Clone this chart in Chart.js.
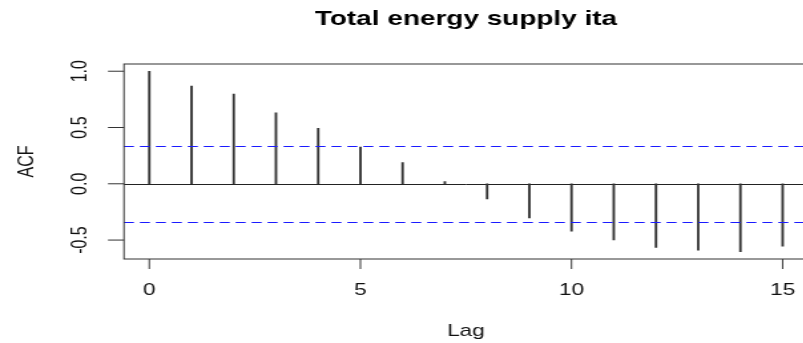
<!DOCTYPE html>
<html>
<head>
<meta charset="utf-8">
<script src="https://cdn.jsdelivr.net/npm/chart.js@4.4.1/dist/chart.umd.min.js"></script>
<style>
  html, body { margin: 0; padding: 0; background: #fff; overflow: hidden; width: 803px; height: 343px; }
  /* the reference is stretched sideways, so draw narrow and widen it */
  #wrap { position: absolute; left: 0; top: 0; width: 612px; height: 343px; transform: scaleX(1.33); transform-origin: 0 0; }
</style>
</head>
<body>
<div id="wrap"><canvas id="acf" width="612" height="343"></canvas></div>
<script>
const chartTitle = 'Total energy supply ita';
const xTitle = 'Lag';
const yTitle = 'ACF';
const lags = [0, 1, 2, 3, 4, 5, 6, 7, 8, 9, 10, 11, 12, 13, 14, 15];
const acfValues = [1.0, 0.867, 0.796, 0.631, 0.493, 0.327, 0.188, 0.02, -0.135, -0.304, -0.422, -0.498, -0.566, -0.59, -0.604, -0.555];
const ciBound = 0.34;
const xTicks = [0, 5, 10, 15];
const xTickLabels = ['0', '5', '10', '15'];
const yTicks = [-0.5, 0, 0.5, 1.0];
const yTickLabels = ['-0.5', '0.0', '0.5', '1.0'];

const FONT = "'Liberation Sans', Arial, Helvetica, sans-serif";

// R style 4% range extension
function extend(lo, hi) {
    const d = (hi - lo) * 0.04;
    return [lo - d, hi + d];
}
const xRange = extend(Math.min(...lags), Math.max(...lags));
const yRange = extend(Math.min(-ciBound, ...acfValues), Math.max(ciBound, ...acfValues));

function hline(ctx, area, py, color, dash) {
    ctx.save();
    ctx.strokeStyle = color;
    ctx.lineWidth = 1;
    ctx.setLineDash(dash || []);
    const yy = Math.round(py) + 0.5;
    ctx.beginPath();
    ctx.moveTo(area.left, yy);
    ctx.lineTo(area.right, yy);
    ctx.stroke();
    ctx.restore();
}

const rAxes = {
    id: 'rAxes',
    beforeDatasetsDraw(chart) {
        hline(chart.ctx, chart.chartArea, chart.scales.y.getPixelForValue(0), '#222');
    },
    afterDatasetsDraw(chart) {
        const ctx = chart.ctx;
        const area = chart.chartArea;
        const x = chart.scales.x;
        const y = chart.scales.y;

        // confidence bounds
        hline(ctx, area, y.getPixelForValue(ciBound), '#1a1aff', [7.5, 4.5]);
        hline(ctx, area, y.getPixelForValue(-ciBound), '#1a1aff', [7.5, 4.5]);

        ctx.save();
        // box
        ctx.strokeStyle = '#333';
        ctx.lineWidth = 1;
        ctx.strokeRect(area.left, area.top, area.right - area.left, area.bottom - area.top);

        // x ticks
        ctx.fillStyle = '#111';
        ctx.font = '17px ' + FONT;
        ctx.textAlign = 'center';
        ctx.textBaseline = 'alphabetic';
        xTicks.forEach((t, i) => {
            const px = x.getPixelForValue(t);
            ctx.beginPath();
            ctx.moveTo(px, area.bottom);
            ctx.lineTo(px, area.bottom + 10);
            ctx.stroke();
            ctx.fillText(xTickLabels[i], px, 295);
        });

        // y ticks, labels turned like R does
        ctx.font = '16px ' + FONT;
        yTicks.forEach((t, i) => {
            const py = y.getPixelForValue(t);
            ctx.beginPath();
            ctx.moveTo(area.left, py);
            ctx.lineTo(area.left - 12, py);
            ctx.stroke();
            ctx.save();
            ctx.translate(65.4, py);
            ctx.rotate(-Math.PI / 2);
            ctx.fillText(yTickLabels[i], 0, 0);
            ctx.restore();
        });

        // axis titles
        const midX = (area.left + area.right) / 2;
        ctx.font = '17px ' + FONT;
        ctx.fillText(xTitle, midX, 336);
        ctx.save();
        ctx.font = '16px ' + FONT;
        ctx.translate(25, (area.top + area.bottom) / 2);
        ctx.rotate(-Math.PI / 2);
        ctx.fillText(yTitle, 0, 0);
        ctx.restore();

        // main title
        ctx.font = 'bold 21px ' + FONT;
        ctx.fillStyle = '#000';
        ctx.fillText(chartTitle, midX, 25);

        ctx.restore();
    }
};

new Chart(document.getElementById('acf'), {
    type: 'bar',
    data: {
        datasets: [{
            data: lags.map((l, i) => ({ x: l, y: acfValues[i] })),
            backgroundColor: '#333',
            borderWidth: 0,
            barThickness: 1.2,
            grouped: false
        }]
    },
    options: {
        responsive: false,
        animation: false,
        devicePixelRatio: 1,
        layout: {
            padding: { left: 93.2, right: 4.5, top: 64, bottom: 84 }
        },
        plugins: {
            legend: { display: false },
            tooltip: { enabled: false },
            title: { display: false }
        },
        scales: {
            x: {
                type: 'linear',
                display: false,
                min: xRange[0],
                max: xRange[1],
                offset: false
            },
            y: {
                type: 'linear',
                display: false,
                min: yRange[0],
                max: yRange[1]
            }
        }
    },
    plugins: [rAxes]
});
</script>
</body>
</html>
